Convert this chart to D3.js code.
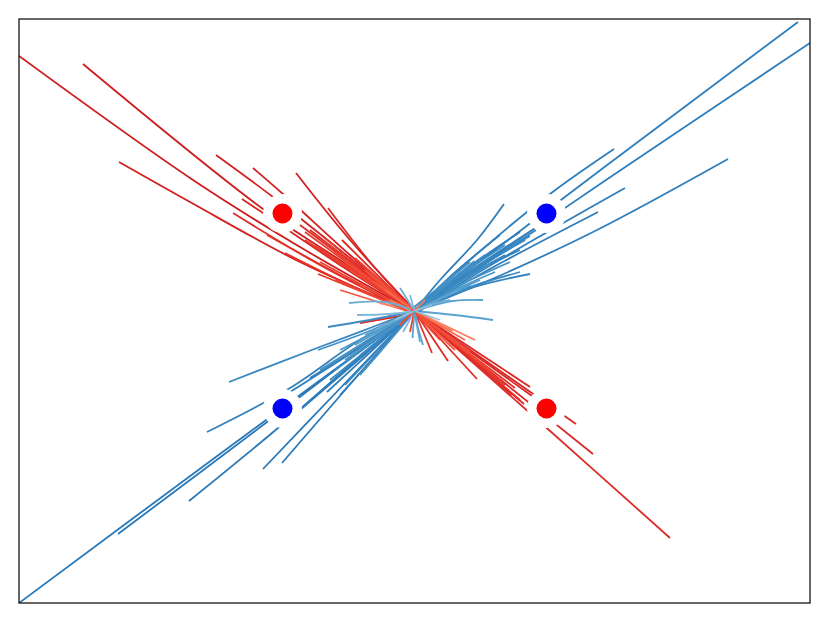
<!DOCTYPE html>
<html>
<head>
<meta charset="utf-8">
<script src="https://cdn.jsdelivr.net/npm/d3@7"></script>
<style>
  html, body { margin: 0; padding: 0; background: #fff; }
  svg { display: block; }
</style>
</head>
<body>
<svg id="chart" width="830" height="623"></svg>
<script>
// ---- data (trajectories, each a list of [x, y] points, outer end first) ----
const redPaths = [
  // top-left
  [[-3.955,2.55],[-2.215,1.31],[-1.145,0.64],[-0.015,0]],
  [[-3.315,2.47],[-1.515,1.02],[-0.745,0.51],[-0.005,0.01]],
  [[-2.955,1.49],[-2.245,1.09],[-1.145,0.49],[-0.015,-0.01]],
  [[-1.985,1.56],[-1.415,1.14],[-0.745,0.61],[0.005,0]],
  [[-1.615,1.43],[-1.315,1.17],[-0.645,0.56],[0,0]],
  [[-1.725,1.12],[-1.515,0.98],[-0.745,0.46],[0,-0.01]],
  [[-1.185,1.38],[-0.645,0.71],[0,0.01]],
  [[-0.865,1.03],[-0.445,0.49],[0,0]],
  [[-1.815,0.98],[-0.945,0.46],[-0.015,-0.02]],
  [[-0.725,0.71],[0,-0.01]],
  [[-1.475,0.76],[-0.745,0.36],[0,-0.01]],
  [[-1.295,0.58],[-0.645,0.26],[0,-0.01]],
  [[-0.965,0.37],[0,-0.02]],
  [[-1.145,0.86],[0,0]],
  [[-1.045,0.81],[0.01,0]],
  [[-1.095,0.71],[0,0]],
  [[-0.945,0.61],[0,-0.01]],
  [[-0.845,0.56],[0.005,-0.01]],
  [[-0.645,0.41],[0,0]],
  [[-0.545,0.26],[0,-0.01]],
  [[-0.745,0.21],[-0.01,-0.02]],
  [[-0.445,0.36],[0,0]],
  [[-0.345,0.16],[0,-0.01]],
  [[-0.545,-0.12],[-0.025,-0.03]],
  [[-0.35,0.08],[0,0]],
  [[-0.28,0.12],[0.01,-0.01]],
  [[-1.095,0.79],[0.02,-0.02]],
  [[-0.995,0.66],[0.03,-0.03]],
  [[-0.895,0.73],[0.01,-0.01]],
  [[-0.795,0.59],[0.05,-0.05]],
  [[-0.695,0.49],[0.02,-0.02]],
  [[-0.595,0.53],[0.04,-0.03]],
  [[-0.495,0.41],[0.06,-0.05]],
  [[-0.395,0.29],[0.08,-0.06]],
  [[-0.945,0.49],[0.03,-0.04]],
  [[-0.795,0.31],[0.02,-0.03]],
  [[-0.295,0.21],[0.1,-0.07]],
  [[-0.245,0.11],[0.12,-0.09]],
  // bottom-right
  [[1.155,-0.76],[0.55,-0.36],[0,0]],
  [[1.175,-0.85],[0.55,-0.4],[0,0]],
  [[1.095,-0.93],[0.5,-0.43],[0,0]],
  [[2.555,-2.27],[1.3,-1.15],[0,0]],
  [[1.785,-1.43],[0.9,-0.72],[0,0]],
  [[1.615,-1.13],[0.8,-0.56],[0,0]],
  [[0.625,-0.68],[0,0]],
  [[0.335,-0.5],[0,0]],
  [[0.175,-0.42],[0,0]],
  [[1.055,-0.89],[0.5,-0.42],[0,0]],
  [[0.905,-0.74],[0.45,-0.37],[0,0]],
  [[0.975,-0.84],[0.48,-0.41],[0,0]],
  [[0.555,-0.41],[0,0]],
  [[0.455,-0.34],[0,0]],
  [[0.305,-0.24],[0,0]],
  [[0.605,-0.29],[0,0]],
  [[0.38,-0.2],[0,0]],
  [[0.25,-0.12],[0,0]],
  [[1.005,-0.77],[-0.02,0.01]],
  [[0.855,-0.69],[-0.03,0.02]],
  [[0.755,-0.59],[-0.01,0.02]],
  [[0.655,-0.51],[-0.04,0.03]],
  [[0.405,-0.39],[-0.02,0.01]],
  [[0.505,-0.29],[-0.05,0.03]],
  [[0.255,-0.29],[-0.03,0.02]],
  // short, other directions
  [[-0.045,-0.21],[0,0]],
  [[-0.15,-0.14],[0,0]],
  [[0.105,0.11],[0,0]]
];
const redShades = [
  0.74,0.74,0.73,0.72,0.72,0.70,0.72,0.70,0.68,0.68,0.66,0.66,0.64,0.68,0.68,0.64,0.64,0.60,0.56,0.52,0.56,0.52,0.45,0.68,0.42,0.40,
  0.64,0.62,0.66,0.60,0.58,0.60,0.56,0.55,0.62,0.60,0.50,0.45,
  0.70,0.70,0.68,0.68,0.70,0.70,0.68,0.68,0.66,0.66,0.64,0.68,0.55,0.50,0.45,0.45,0.42,0.40,
  0.66,0.64,0.60,0.58,0.55,0.50,0.60,
  0.62,0.58,0.45
];

const bluePaths = [
  // top-right
  [[3.835,2.89],[1.9,1.44],[0,0]],
  [[3.955,2.68],[1.9,1.3],[0,0]],
  [[1.995,1.62],[1.355,1.17],[0.6,0.55],[0,0]],
  [[3.135,1.52],[1.825,0.81],[0.8,0.33],[0,0]],
  [[2.105,1.23],[1.0,0.6],[0,0]],
  [[1.835,0.99],[0.9,0.5],[0,0]],
  [[0.895,1.07],[0.625,0.71],[0.255,0.31],[0,0]],
  [[1.255,0.86],[0.6,0.43],[0,0]],
  [[1.215,0.81],[0.6,0.4],[0,0]],
  [[1.155,0.37],[0.6,0.24],[0,0]],
  [[1.055,0.39],[0.5,0.22],[0,0]],
  [[0.685,0.11],[0.38,0.1],[0,0]],
  [[0.785,-0.09],[0.4,-0.04],[0,0]],
  [[1.055,0.61],[0.5,0.33],[0,0]],
  [[0.905,0.56],[0.45,0.3],[0,0]],
  [[0.755,0.46],[0.38,0.25],[0,0]],
  [[0.555,0.26],[0,0]],
  [[1.105,0.71],[0.55,0.38],[0,0]],
  [[0.455,0.41],[0,0]],
  [[0.855,0.76],[0.42,0.4],[0,0]],
  [[1.055,0.79],[0.52,0.42],[0,0]],
  [[0.6,0.5],[0,0]],
  [[0.955,0.49],[0.45,0.26],[-0.02,0.01]],
  [[0.805,0.39],[0.4,0.21],[-0.03,-0.02]],
  [[0.655,0.31],[0.3,0.15],[-0.04,-0.01]],
  [[1.005,0.66],[0.5,0.34],[0.02,-0.03]],
  [[0.905,0.66],[0.45,0.35],[-0.02,-0.02]],
  [[1.155,0.75],[0.58,0.4],[0.01,0.02]],
  [[0.555,0.49],[0.25,0.24],[-0.03,0.02]],
  [[0.705,0.56],[0.35,0.29],[0.02,-0.01]],
  [[0.455,0.21],[0.2,0.1],[-0.05,-0.03]],
  [[0.355,0.11],[0.15,0.06],[-0.06,-0.04]],
  // bottom-left
  [[-3.955,-2.92],[-2.0,-1.47],[0,0]],
  [[-2.965,-2.23],[-1.475,-1.11],[-0.7,-0.52],[0,0]],
  [[-2.255,-1.9],[-1.365,-1.17],[-0.65,-0.55],[0,0]],
  [[-1.515,-1.58],[-0.75,-0.78],[0,0]],
  [[-1.325,-1.52],[-0.65,-0.74],[0,0]],
  [[-2.075,-1.21],[-1.245,-0.77],[-0.545,-0.29],[0,0]],
  [[-1.855,-0.71],[-0.975,-0.37],[-0.445,-0.17],[0,0]],
  [[-0.865,-0.16],[-0.345,-0.07],[0,0]],
  [[-0.655,0.08],[-0.295,0.09],[0,0]],
  [[-1.245,-0.81],[-0.6,-0.4],[0,0]],
  [[-1.045,-0.67],[-0.5,-0.33],[0,0]],
  [[-0.875,-0.81],[-0.43,-0.4],[0,0]],
  [[-0.965,-0.39],[-0.45,-0.2],[0,0]],
  [[-1.145,-0.99],[-0.55,-0.48],[0,0]],
  [[-0.795,-0.59],[0,0]],
  [[-0.695,-0.74],[0,0]],
  [[-0.575,-0.04],[-0.25,-0.03],[0,0]],
  [[-0.745,-0.39],[0,0]],
  [[-0.55,-0.45],[0,0]],
  [[-0.945,-0.59],[-0.45,-0.28],[0.02,0.01]],
  [[-0.845,-0.69],[-0.4,-0.33],[0.03,0.02]],
  [[-0.695,-0.49],[-0.33,-0.23],[0.02,-0.02]],
  [[-0.595,-0.34],[-0.28,-0.16],[0.04,0.01]],
  [[-0.495,-0.24],[-0.22,-0.11],[0.05,0.02]],
  [[-0.745,-0.84],[-0.35,-0.4],[0.01,0.03]],
  [[-0.545,-0.64],[-0.25,-0.3],[0.02,0.02]],
  [[-0.395,-0.19],[-0.18,-0.08],[0.04,0.03]],
  // short, other directions
  [[-0.145,0.23],[0,0]],
  [[0.055,-0.31],[0.02,-0.12],[0,0]],
  [[0.085,-0.34],[0.03,-0.15],[0,0]],
  [[-0.115,-0.21],[0,0]],
  [[0.175,0.06],[0,0]],
  [[-0.195,-0.09],[0,0]],
  [[-0.045,0.16],[0,0]],
  [[0.255,-0.09],[0,0]],
  [[-0.02,-0.27],[0,0]]
];
const blueShades = [
  0.70,0.70,0.70,0.70,0.70,0.70,0.70,0.68,0.66,0.68,0.66,0.55,0.55,0.68,0.66,0.62,0.55,0.70,0.60,0.68,0.70,0.62,
  0.62,0.60,0.58,0.66,0.64,0.66,0.62,0.64,0.55,0.50,
  0.72,0.72,0.72,0.72,0.72,0.68,0.66,0.65,0.50,0.70,0.68,0.70,0.62,0.70,0.64,0.66,0.45,0.60,0.62,
  0.64,0.66,0.60,0.58,0.55,0.68,0.62,0.50,
  0.50,0.50,0.55,0.45,0.40,0.40,0.45,0.40,0.55
];

const markerX = [-1.32, 1.32, -1.32, 1.32];
const markerY = [0.975, -0.975, -0.975, 0.975];
const markerColor = ["#ff0000", "#ff0000", "#0000ff", "#0000ff"];

// ---- layout ----
const plotL = 19, plotR = 810, plotT = 19, plotB = 603;
const x = d3.scaleLinear().domain([-3.955, 3.955]).range([plotL, plotR]);
const y = d3.scaleLinear().domain([-2.92, 2.92]).range([plotB, plotT]);

const svg = d3.select("#chart");
svg.append("defs").append("clipPath").attr("id", "clip")
  .append("rect").attr("x", plotL).attr("y", plotT)
  .attr("width", plotR - plotL).attr("height", plotB - plotT);

const line = d3.line().x(d => x(d[0])).y(d => y(d[1])).curve(d3.curveCatmullRom.alpha(0.5));

// interleave the two groups so that neither colour sits entirely on top
const traces = [];
const n = Math.max(redPaths.length, bluePaths.length);
for (let i = 0; i < n; i++) {
  if (i < redPaths.length) traces.push({ pts: redPaths[i], color: d3.interpolateReds(redShades[i]) });
  if (i < bluePaths.length) traces.push({ pts: bluePaths[i], color: d3.interpolateBlues(blueShades[i]) });
}

const g = svg.append("g").attr("clip-path", "url(#clip)");

g.selectAll("path.trace").data(traces).join("path")
  .attr("class", "trace")
  .attr("d", d => line(d.pts))
  .attr("fill", "none")
  .attr("stroke", d => d.color)
  .attr("stroke-width", 1.8)
  .attr("stroke-linecap", "butt");

const idx = d3.range(markerX.length);
g.selectAll("circle.halo").data(idx).join("circle")
  .attr("class", "halo")
  .attr("cx", i => x(markerX[i])).attr("cy", i => y(markerY[i]))
  .attr("r", 19.5).attr("fill", "#ffffff");
g.selectAll("circle.dot").data(idx).join("circle")
  .attr("class", "dot")
  .attr("cx", i => x(markerX[i])).attr("cy", i => y(markerY[i]))
  .attr("r", 10).attr("fill", i => markerColor[i]);

svg.append("rect")
  .attr("x", plotL).attr("y", plotT)
  .attr("width", plotR - plotL).attr("height", plotB - plotT)
  .attr("fill", "none").attr("stroke", "#000").attr("stroke-width", 1.2);
</script>
</body>
</html>
